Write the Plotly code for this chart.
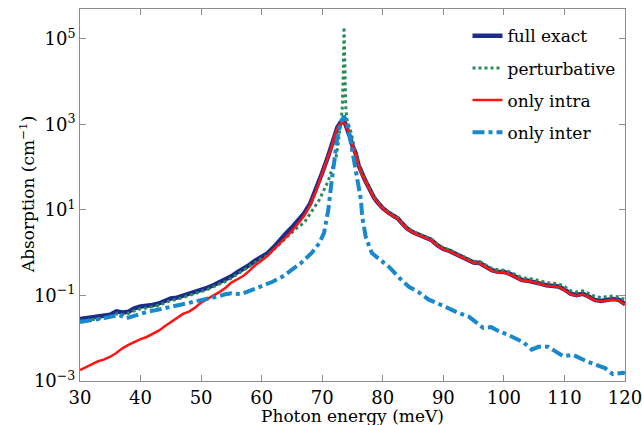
import plotly.graph_objects as go

# Photon energy (meV) and absorption (cm^-1) for each calculation
full_x = [30, 31, 32, 33, 34, 35, 36, 37, 38, 39, 40, 41, 42, 43, 44, 45, 46, 47, 48, 49,
          50, 51, 52, 53, 54, 55, 56, 57, 58, 59, 60, 61, 62, 63, 64, 65, 66, 67, 68, 69,
          70, 71, 71.5, 72, 72.5, 73, 73.4, 73.8, 74.2, 74.6, 75, 75.5, 76, 76.5, 77, 77.5,
          78, 78.5, 79, 80, 81, 82, 82.5, 83, 84, 85, 86, 87, 88, 89, 90, 91, 92, 93, 94,
          95, 96, 97, 98, 99, 100, 101, 102, 103, 104, 105, 106, 107, 108, 109, 110, 111,
          112, 113, 114, 115, 116, 117, 118, 119, 120]
full_y = [0.028, 0.0295, 0.030, 0.0316, 0.033, 0.0355, 0.0427, 0.040, 0.0417, 0.050,
          0.055, 0.056, 0.060, 0.065, 0.074, 0.085, 0.089, 0.098, 0.107, 0.120,
          0.135, 0.151, 0.174, 0.20, 0.234, 0.28, 0.35, 0.42, 0.52, 0.66,
          0.83, 0.98, 1.35, 2.0, 2.8, 3.9, 5.5, 8.3, 14, 30,
          74, 186, 295, 525, 850, 1100, 1150, 1050, 760, 500, 316, 214, 112, 71, 52, 38,
          26, 20, 16, 11, 8.5, 6.9, 6.3, 5.2, 3.7, 3.0, 2.6, 2.35, 2.0, 1.5, 1.23, 1.10,
          0.95, 0.81, 0.68, 0.59, 0.575, 0.48, 0.39, 0.36, 0.355, 0.32, 0.27, 0.23, 0.22,
          0.21, 0.19, 0.174, 0.17, 0.162, 0.138, 0.11, 0.102, 0.11, 0.095, 0.079, 0.074,
          0.079, 0.083, 0.079, 0.063]

pert_x = [30, 31, 32, 33, 34, 35, 36, 37, 38, 39, 40, 41, 42, 43, 44, 45, 46, 47, 48, 49,
          50, 51, 52, 53, 54, 55, 56, 57, 58, 59, 60, 61, 62, 63, 64, 65, 66, 67, 68, 69,
          69.5, 70, 70.5, 71, 71.5, 72, 72.3, 72.6, 72.9, 73.1, 73.3, 73.4, 73.5, 73.6,
          73.7, 73.8, 73.9, 74.1, 74.4, 74.8, 75.2, 75.7, 76, 76.5, 77, 77.5, 78, 78.5,
          79, 80, 81, 82, 82.5, 83, 84, 85, 86, 87, 88, 89, 90, 91, 92, 93, 94, 95, 96,
          97, 98, 99, 100, 101, 102, 103, 104, 105, 106, 107, 108, 109, 110, 111, 112,
          113, 114, 115, 116, 117, 118, 119, 120]
pert_y = [0.025, 0.026, 0.027, 0.029, 0.030, 0.032, 0.037, 0.036, 0.038, 0.044,
          0.049, 0.051, 0.055, 0.059, 0.067, 0.076, 0.081, 0.089, 0.098, 0.110,
          0.123, 0.138, 0.158, 0.182, 0.212, 0.255, 0.315, 0.38, 0.47, 0.59,
          0.74, 0.87, 1.15, 1.6, 2.2, 3.0, 4.0, 5.0, 8.0, 13,
          17, 24, 35, 48, 80, 130, 175, 330, 630, 1200, 2200, 5000, 20000, 190000,
          20000, 5000, 2200, 1300, 900, 630, 330, 175, 115, 72, 53, 39, 27, 20.5,
          16.5, 11.2, 8.7, 7.0, 6.4, 5.3, 3.8, 3.1, 2.7, 2.45, 2.1, 1.58, 1.3, 1.16,
          1.0, 0.86, 0.72, 0.63, 0.62, 0.52, 0.43, 0.40, 0.39, 0.355, 0.30, 0.26, 0.25,
          0.24, 0.22, 0.20, 0.195, 0.188, 0.162, 0.13, 0.121, 0.128, 0.112, 0.095, 0.090,
          0.094, 0.097, 0.092, 0.080]

intra_x = [30, 31, 32, 33, 34, 35, 36, 37, 38, 39, 40, 41, 42, 43, 44, 45, 46, 47, 48, 49,
           50, 51, 52, 53, 54, 55, 56, 57, 58, 59, 60, 61, 62, 63, 64, 65, 66, 67, 68, 69,
           70, 71, 71.5, 72, 72.5, 73, 73.4, 73.8, 74.2, 74.6, 75, 75.5, 76, 76.5, 77, 77.5,
           78, 78.5, 79, 80, 81, 82, 82.5, 83, 84, 85, 86, 87, 88, 89, 90, 91, 92, 93, 94,
           95, 96, 97, 98, 99, 100, 101, 102, 103, 104, 105, 106, 107, 108, 109, 110, 111,
           112, 113, 114, 115, 116, 117, 118, 119, 120]
intra_y = [0.0018, 0.0021, 0.0025, 0.0029, 0.0032, 0.0037, 0.0045, 0.0058, 0.0070, 0.0082,
           0.0095, 0.0107, 0.0125, 0.015, 0.019, 0.024, 0.030, 0.037, 0.042, 0.052,
           0.068, 0.082, 0.097, 0.12, 0.15, 0.20, 0.24, 0.29, 0.38, 0.52,
           0.66, 0.85, 1.2, 1.7, 2.3, 3.2, 4.7, 7.2, 13, 28,
           72, 180, 285, 510, 830, 1080, 1120, 1030, 750, 490, 310, 210, 110, 70, 51, 37,
           25.5, 19.6, 15.7, 10.8, 8.3, 6.8, 6.2, 5.1, 3.6, 2.95, 2.55, 2.3, 1.96, 1.47,
           1.2, 1.08, 0.93, 0.79, 0.66, 0.58, 0.56, 0.47, 0.38, 0.35, 0.345, 0.31, 0.26,
           0.225, 0.215, 0.205, 0.185, 0.17, 0.165, 0.158, 0.134, 0.107, 0.099, 0.107,
           0.092, 0.077, 0.072, 0.077, 0.081, 0.077, 0.061]

inter_x = [30, 32, 34, 35, 36.5, 37.7, 39, 41, 43, 45, 47, 49, 51, 52.5, 54, 55, 56.6,
           58.5, 60, 61.8, 63.5, 65, 66.5, 68.3, 69.5, 70.3, 71, 71.5, 72, 72.5, 73, 73.6,
           74.2, 74.7, 75.2, 75.7, 76.1, 76.4, 76.6, 77.2, 78.2, 79.7, 81, 82.7, 84.3,
           85.9, 87.6, 90.4, 92.5, 94.2, 95.3, 96.6, 97.9, 99, 100.7, 103.2, 104.6, 105.7,
           107.3, 109.8, 111.4, 113.9, 116.7, 118, 119.7, 120]
inter_y = [0.024, 0.026, 0.0295, 0.0316, 0.0347, 0.0295, 0.034, 0.041, 0.047, 0.054,
           0.063, 0.072, 0.083, 0.093, 0.107, 0.112, 0.107,
           0.141, 0.166, 0.209, 0.28, 0.40, 0.575, 1.0, 1.66, 2.9, 10, 40, 160, 500, 1000,
           1600, 1000, 400, 160, 74, 40, 17, 7, 2.3, 0.98, 0.68, 0.47, 0.26, 0.16,
           0.12, 0.08, 0.054, 0.039, 0.032, 0.024, 0.0174, 0.0182, 0.0150, 0.0120,
           0.0081, 0.0054, 0.0063, 0.0063, 0.0038, 0.0041, 0.0028, 0.0020, 0.00145,
           0.00155, 0.0015]

# Decade ticks shown on the absorption axis
y_tick_vals = [1e-3, 1e-1, 1e1, 1e3, 1e5]
y_tick_text = ["10<sup>−3</sup>", "10<sup>−1</sup>", "10<sup>1</sup>",
               "10<sup>3</sup>", "10<sup>5</sup>"]
x_tick_vals = [30, 40, 50, 60, 70, 80, 90, 100, 110, 120]

x_title = "Photon energy (meV)"
y_title = "Absorption (cm<sup>−1</sup>)"

SERIF = "DejaVu Serif"

fig = go.Figure()
fig.add_trace(go.Scatter(x=full_x, y=full_y, mode="lines", name="full exact",
                         legendgroup="a",
                         line=dict(color="#1b2d8a", width=4.5)))
fig.add_trace(go.Scatter(x=pert_x, y=pert_y, mode="lines", name="perturbative",
                         legendgroup="b",
                         line=dict(color="#2a8a5a", width=3, dash="dot")))
fig.add_trace(go.Scatter(x=intra_x, y=intra_y, mode="lines", name="only intra",
                         legendgroup="c",
                         line=dict(color="#ff1414", width=2.5)))
fig.add_trace(go.Scatter(x=inter_x, y=inter_y, mode="lines", name="only inter",
                         legendgroup="d",
                         line=dict(color="#1a88cc", width=4, dash="dashdot")))

axis_common = dict(showline=True, linecolor="#8c8c8c", linewidth=1, mirror="ticks",
                   ticks="inside", ticklen=6, tickcolor="#8c8c8c", showgrid=False,
                   zeroline=False, ticklabeloverflow="allow", automargin=False,
                   tickfont=dict(family=SERIF, size=18, color="black"))

fig.update_xaxes(range=[29.999, 120.001], tickvals=x_tick_vals, **axis_common)
fig.update_yaxes(type="log", range=[-3, 5.7], tickvals=y_tick_vals, ticktext=y_tick_text,
                 **axis_common)

# Axis titles, placed in paper coordinates beside the frame
fig.add_annotation(text=x_title, xref="paper", yref="paper", x=0.5, y=-0.095,
                   xanchor="center", yanchor="middle", showarrow=False,
                   font=dict(family=SERIF, size=17, color="black"))
fig.add_annotation(text=y_title, xref="paper", yref="paper", x=-0.097, y=0.5,
                   xanchor="center", yanchor="middle", textangle=-90, showarrow=False,
                   font=dict(family=SERIF, size=17, color="black"))

fig.update_layout(
    width=642, height=425,
    margin=dict(l=80, r=17, t=9, b=44),
    paper_bgcolor="white", plot_bgcolor="white",
    font=dict(family=SERIF, color="black"),
    showlegend=True,
    legend=dict(x=0.711, y=0.975, xanchor="left", yanchor="top",
                bgcolor="rgba(255,255,255,0)", tracegroupgap=7,
                font=dict(family=SERIF, size=17, color="black")),
    hovermode=False,
)

fig.write_html("out.html")
